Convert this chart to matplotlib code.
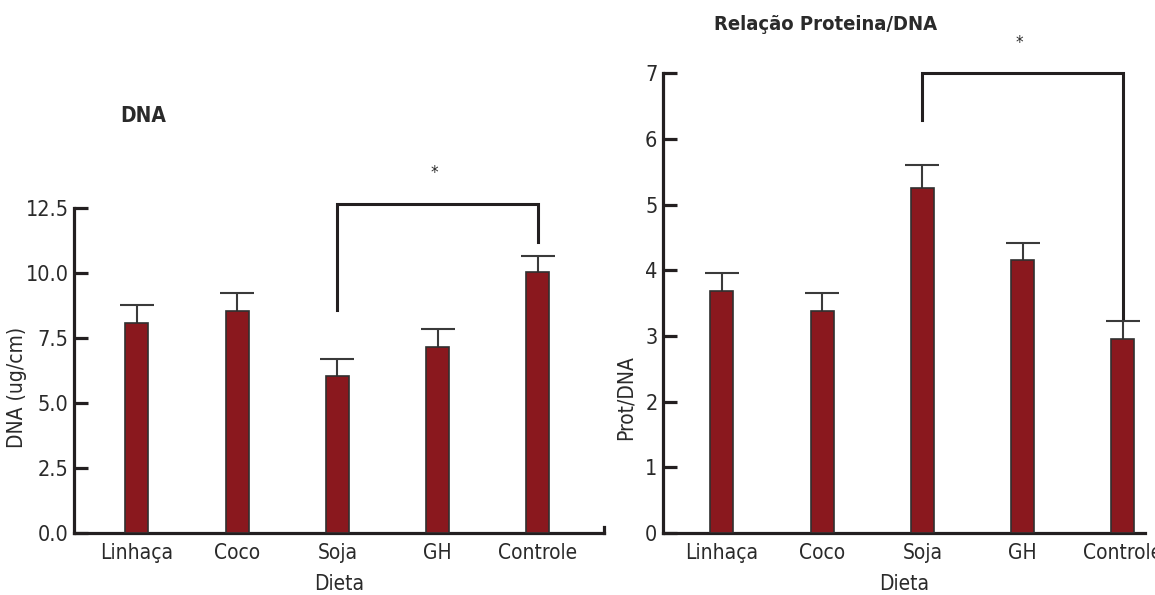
import matplotlib
matplotlib.use('Agg')
import matplotlib.pyplot as plt

plt.rcParams['font.family'] = ['Liberation Sans Narrow', 'DejaVu Sans']
plt.rcParams['font.stretch'] = 'condensed'

dietas = ['Linhaça', 'Coco', 'Soja', 'GH', 'Controle']

# DNA (ug/cm): media e erro
dna_media = [8.08, 8.54, 6.04, 7.17, 10.04]
dna_erro = [0.69, 0.69, 0.66, 0.66, 0.63]

# Relacao proteina/DNA: media e erro
prot_media = [3.69, 3.38, 5.25, 4.16, 2.96]
prot_erro = [0.27, 0.27, 0.35, 0.26, 0.26]

BAR = '#8a181e'
EDGE = '#303030'
AXC = '#231f20'
TXT = '#2a2a2a'


def painel(ax, medias, erros, ymax, ytop, yticks, yticklabels, ylabel, label_xy):
    x = range(len(medias))
    ax.bar(x, medias, width=0.23, color=BAR, edgecolor=EDGE, linewidth=1.2, zorder=3)
    _, caps, _ = ax.errorbar(x, medias, yerr=[[0] * len(erros), erros], fmt='none',
                             ecolor='#3a3a3a', elinewidth=1.5, capsize=12,
                             capthick=1.5, zorder=2)
    # so o traco superior
    caps[0].set_visible(False)
    for s in ['top', 'right']:
        ax.spines[s].set_visible(False)
    ax.spines['left'].set_bounds(0, ytop)
    ax.spines['left'].set_linewidth(2.3)
    ax.spines['bottom'].set_linewidth(2.3)
    ax.spines['left'].set_color(AXC)
    ax.spines['bottom'].set_color(AXC)
    ax.set_ylim(0, ymax)
    ax.set_yticks(yticks)
    ax.set_yticklabels(yticklabels)
    ax.tick_params(axis='y', direction='in', length=10, width=2.3, color=AXC,
                   pad=4, labelsize=15.5, labelcolor=TXT)
    ax.set_xticks(list(x))
    ax.set_xticklabels(dietas)
    ax.tick_params(axis='x', length=0, pad=7, labelsize=15, labelcolor=TXT)
    ax.set_xlabel('Dieta', fontsize=15, color=TXT, labelpad=8)
    ax.set_ylabel(ylabel, fontsize=15, color=TXT)
    ax.yaxis.set_label_coords(*label_xy)


def colchete(ax, x0, x1, ytopo, y0, y1, ystar):
    ax.plot([x0, x0, x1, x1], [y0, ytopo, ytopo, y1], color=AXC, lw=2.2,
            clip_on=False, solid_joinstyle='miter', zorder=4)
    ax.text((x0 + x1) / 2 - 0.03, ystar, '*', ha='center', va='center',
            fontsize=12, color=TXT, clip_on=False)


fig = plt.figure(figsize=(11.55, 5.95), dpi=100)

# painel DNA
ax1 = fig.add_axes([74 / 1155, 62 / 595, 530 / 1155, 377 / 595])
painel(ax1, dna_media, dna_erro, 14.5, 12.5,
       [0, 2.5, 5.0, 7.5, 10.0, 12.5], ['0.0', '2.5', '5.0', '7.5', '10.0', '12.5'],
       'DNA (ug/cm)', (-0.089, 0.385))
ax1.set_xlim(-0.628, 4.66)
ax1.plot([4.66, 4.66], [0, 0.25], color=AXC, lw=2.3, clip_on=False)
colchete(ax1, 2, 4, 12.65, 8.58, 11.2, 13.85)

# painel Proteina/DNA
ax2 = fig.add_axes([663 / 1155, 62 / 595, 482 / 1155, 519 / 595])
painel(ax2, prot_media, prot_erro, 7.9, 7,
       list(range(8)), [str(i) for i in range(8)],
       'Prot/DNA', (-0.056, 0.26))
ax2.set_xlim(-0.587, 4.22)
colchete(ax2, 2, 4, 7.0, 6.28, 3.27, 7.46)

fig.text(143 / 1155, 1 - 116 / 595, 'DNA', ha='center', va='center',
         fontsize=15, fontweight='bold', color=TXT)
fig.text(826 / 1155, 1 - 24 / 595, 'Relação Proteina/DNA', ha='center', va='center',
         fontsize=14.5, fontweight='bold', color=TXT)

fig.savefig('out.png', dpi=100, facecolor='white')
